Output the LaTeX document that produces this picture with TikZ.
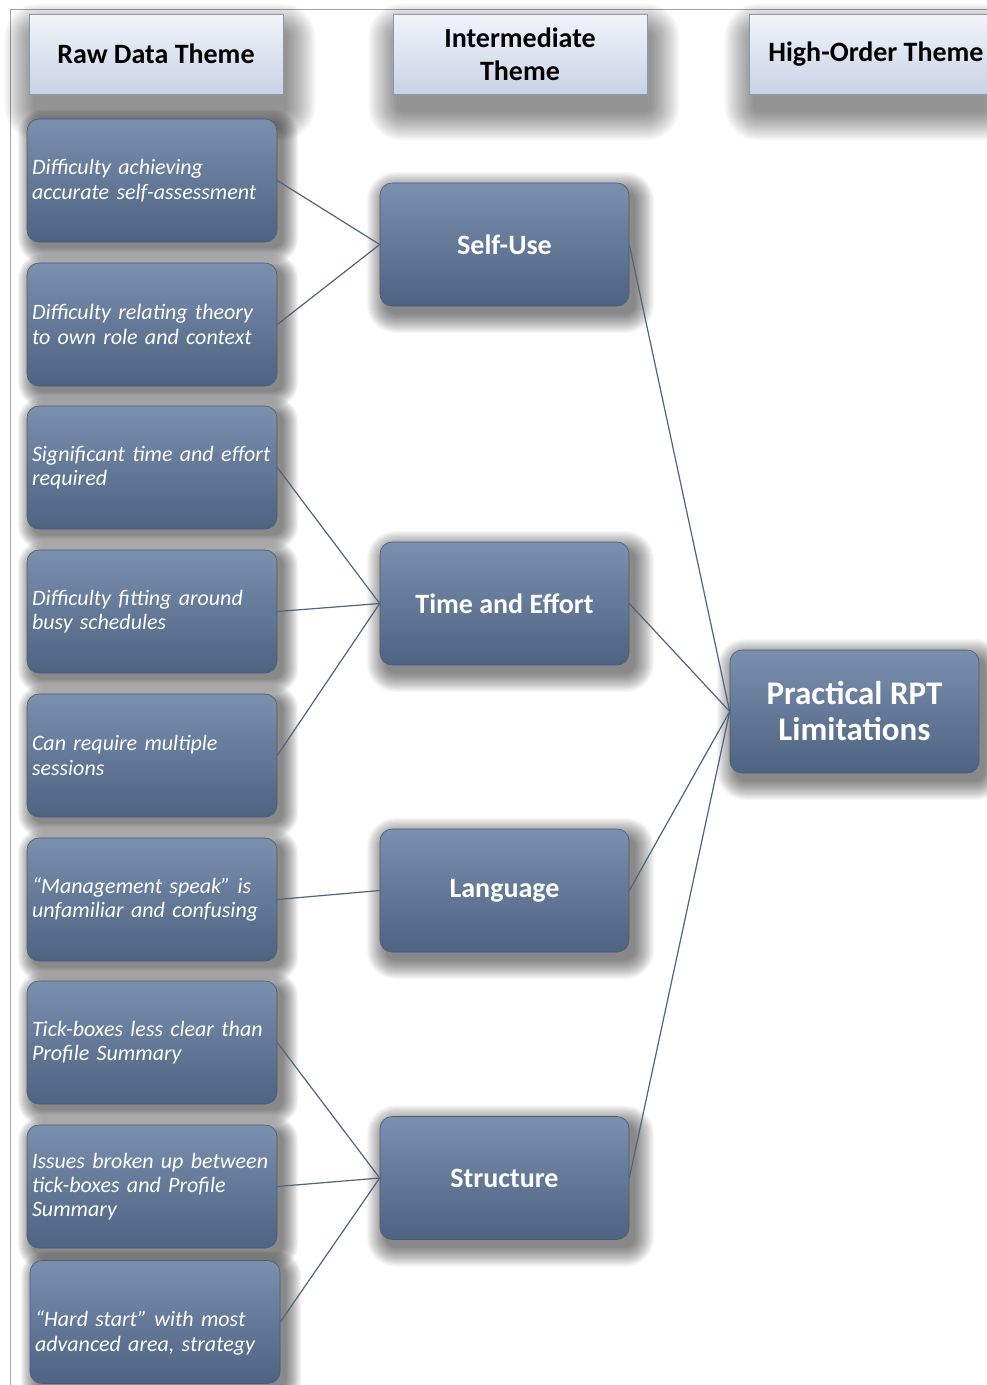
\documentclass[tikz,border=0pt]{standalone}
\usepackage{fontspec}
\setmainfont{Carlito}
\usetikzlibrary{backgrounds}
\definecolor{boxtop}{HTML}{7A90AE}
\definecolor{boxbot}{HTML}{4E6282}
\definecolor{boxline}{HTML}{4A5C78}
\definecolor{hdtop}{HTML}{F2F4FA}
\definecolor{hdbot}{HTML}{C8D2E5}
\definecolor{hdline}{HTML}{8C97AA}
\definecolor{conn}{HTML}{52637D}
\definecolor{frame}{HTML}{9CA89C}
\tikzset{
  header/.style={rectangle, top color=hdtop, bottom color=hdbot, draw=hdline, line width=0.8pt,
    minimum width=254pt, minimum height=80pt, inner sep=0pt, align=center,
    font=\fontsize{28}{33}\selectfont\bfseries, text=black},
  rawbox/.style={rectangle, rounded corners=12pt, top color=boxtop, bottom color=boxbot, draw=boxline, line width=0.6pt,
    minimum width=250pt, minimum height=123pt, text width=240pt, inner xsep=5pt, inner ysep=0pt, align=left,
    font=\fontsize{22}{24.3}\selectfont\itshape, text=white},
  midbox/.style={rectangle, rounded corners=12pt, top color=boxtop, bottom color=boxbot, draw=boxline, line width=0.6pt,
    minimum width=249pt, minimum height=123pt, inner sep=0pt, align=center,
    font=\fontsize{28}{30}\selectfont\bfseries, text=white},
  topbox/.style={midbox, font=\fontsize{33}{36}\selectfont\bfseries},
  link/.style={draw=conn, line width=1.2pt}
}
% soft shadow: #1 node, #2 dx, #3 dy (down positive), #4 spread, #5 corner radius, #6 per-step opacity
\newcommand{\softshade}[6]{%
  \foreach \k in {1,...,16}{%
    \pgfmathsetmacro{\s}{#4*(16-\k)/16}%
    \pgfmathsetmacro{\rc}{#5+\s}%
    \fill[black, opacity=#6, rounded corners=\rc pt]
      ([shift={(#2-\s,#3-\s)}]#1.north west) rectangle ([shift={(#2+\s,#3+\s)}]#1.south east);
  }%
}
\begin{document}
\begin{tikzpicture}[x=1pt,y=-1pt]
\useasboundingbox (0,0) rectangle (986,1385);
% headers
\node[header] (h1) at (156,54) {Raw Data Theme};
\node[header] (h2) at (520,54) {Intermediate\\Theme};
\node[header] (h3) at (876,54) {High-Order Theme};
% raw boxes
\node[rawbox] (r1) at (152,180.5) {Difficulty achieving\\accurate self-assessment};
\node[rawbox] (r2) at (152,324.5) {Difficulty relating theory\\to own role and context};
\node[rawbox] (r3) at (152,467.5) {Significant time and effort\\required};
\node[rawbox] (r4) at (152,611.5) {Difficulty fitting around\\busy schedules};
\node[rawbox] (r5) at (152,755.5) {Can require multiple\\sessions};
\node[rawbox] (r6) at (152,899.5) {“Management speak” is\\unfamiliar and confusing};
\node[rawbox] (r7) at (152,1042.5) {Tick-boxes less clear than\\Profile Summary};
\node[rawbox] (r8) at (152,1186.5) {Issues broken up between\\tick-boxes and Profile\\Summary};
\node[rawbox, text height=38pt] (r9) at (155,1322) {“Hard start” with most\\advanced area, strategy};
% intermediate
\node[midbox] (m1) at (504.5,244.5) {Self-Use};
\node[midbox] (m2) at (504.5,603.5) {Time and Effort};
\node[midbox] (m3) at (504.5,890.5) {Language};
\node[midbox] (m4) at (504.5,1178) {Structure};
% high order
\node[topbox] (p) at (854.5,711.5) {Practical RPT\\Limitations};
\begin{pgfonlayer}{background}
  \fill[white] (0,0) rectangle (986,1385);
  \draw[frame, line width=1pt] (10,1400) -- (10,9.5) -- (1000,9.5);
  \foreach \h in {h1,h2,h3}{\softshade{\h}{4}{18}{30}{6}{0.032}}
  \foreach \r in {r1,r2,r3,r4,r5,r6,r7,r8,r9}{\softshade{\r}{6}{6}{16}{10}{0.035}}
  \foreach \m in {m1,m2,m3,m4,p}{\softshade{\m}{6}{8}{20}{10}{0.035}}
\end{pgfonlayer}
% links
\draw[link] (r1.east) -- (m1.west);
\draw[link] (r2.east) -- (m1.west);
\draw[link] (r3.east) -- (m2.west);
\draw[link] (r4.east) -- (m2.west);
\draw[link] (r5.east) -- (m2.west);
\draw[link] (r6.east) -- (m3.west);
\draw[link] (r7.east) -- (m4.west);
\draw[link] (r8.east) -- (m4.west);
\draw[link] (r9.east) -- (m4.west);
\draw[link] (m1.east) -- (p.west);
\draw[link] (m2.east) -- (p.west);
\draw[link] (m3.east) -- (p.west);
\draw[link] (m4.east) -- (p.west);
\end{tikzpicture}
\end{document}
